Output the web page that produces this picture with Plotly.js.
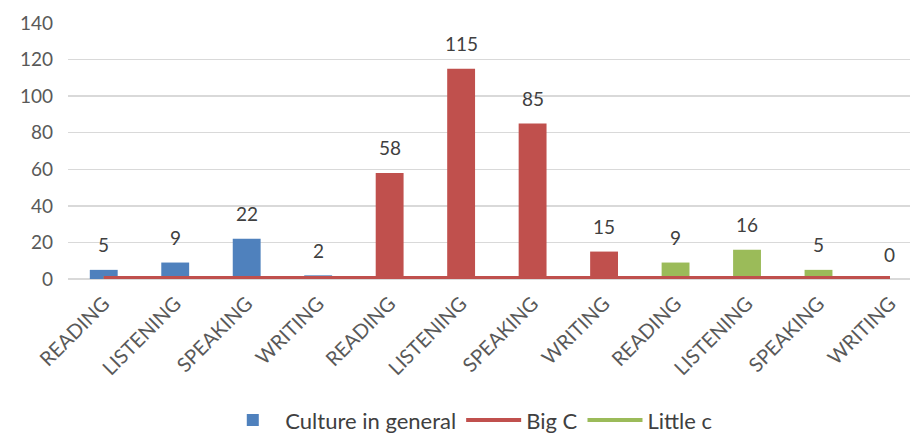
<!DOCTYPE html>
<html>
<head>
<meta charset="utf-8">
<script src="https://cdn.plot.ly/plotly-3.0.1.min.js"></script>
<style>html,body{margin:0;padding:0;background:#fff;overflow:hidden;}#chart{width:910px;height:436px;}</style>
</head>
<body>
<div id="chart"></div>
<script>
var categories = ["READING","LISTENING","SPEAKING","WRITING","READING","LISTENING","SPEAKING","WRITING","READING","LISTENING","SPEAKING","WRITING"];
var barValues = [5, 9, 22, 2, 58, 115, 85, 15, 9, 16, 5, 0];
var barColors = ["#4F81BD","#4F81BD","#4F81BD","#4F81BD","#C0504D","#C0504D","#C0504D","#C0504D","#9BBB59","#9BBB59","#9BBB59","#9BBB59"];
var bigC = [0.5,0.5,0.5,0.5,0.5,0.5,0.5,0.5,0.5,0.5,0.5,0.5];
var littleC = [0.5,0.5,0.5,0.5,0.5,0.5,0.5,0.5,0.5,0.5,0.5,0.5];
var yTicks = [0,20,40,60,80,100,120,140];

var idx = categories.map(function(_, i){ return i; });
var font = "Lato, 'Open Sans', sans-serif";

var traces = [
  {type:"bar", name:"Culture in general", x:idx, y:barValues, width:0.39,
   marker:{color:barColors}, legendrank:1},
  {type:"scatter", mode:"lines", name:"Little c", x:idx, y:littleC,
   line:{color:"#9BBB59", width:4}, legendrank:3},
  {type:"scatter", mode:"lines", name:"Big C", x:idx, y:bigC,
   line:{color:"#C0504D", width:4}, legendrank:2}
];

var annotations = barValues.map(function(v, i){
  return {x:i, y:v, text:String(v), showarrow:false, yshift:25,
          font:{family:font, size:19, color:"#404040"}};
});

var layout = {
  width:910, height:436,
  margin:{l:68, r:0, t:23, b:157, autoexpand:false},
  paper_bgcolor:"#fff", plot_bgcolor:"#fff",
  showlegend:true,
  legend:{orientation:"h", x:0.476, xanchor:"center", y:-0.552, yanchor:"middle",
          font:{family:font, size:22, color:"#404040"}, traceorder:"normal",
          itemwidth:55},
  xaxis:{range:[-0.5, 11.28], tickvals:idx, ticktext:categories, tickangle:-45,
         showgrid:false, zeroline:false, showline:false, ticks:"", automargin:false,
         ticklabelstandoff:8,
         tickfont:{family:font, size:20, color:"#595959"}},
  yaxis:{range:[0,140], tickvals:yTicks, showgrid:true, gridcolor:"#d9d9d9", gridwidth:1.5,
         zeroline:true, zerolinecolor:"#d9d9d9", zerolinewidth:1.5, showline:false, ticks:"",
         ticklabelstandoff:14, automargin:false,
         tickfont:{family:font, size:19, color:"#595959"}},
  annotations:annotations
};

Plotly.newPlot("chart", traces, layout, {displayModeBar:false, staticPlot:true});
</script>
</body>
</html>
